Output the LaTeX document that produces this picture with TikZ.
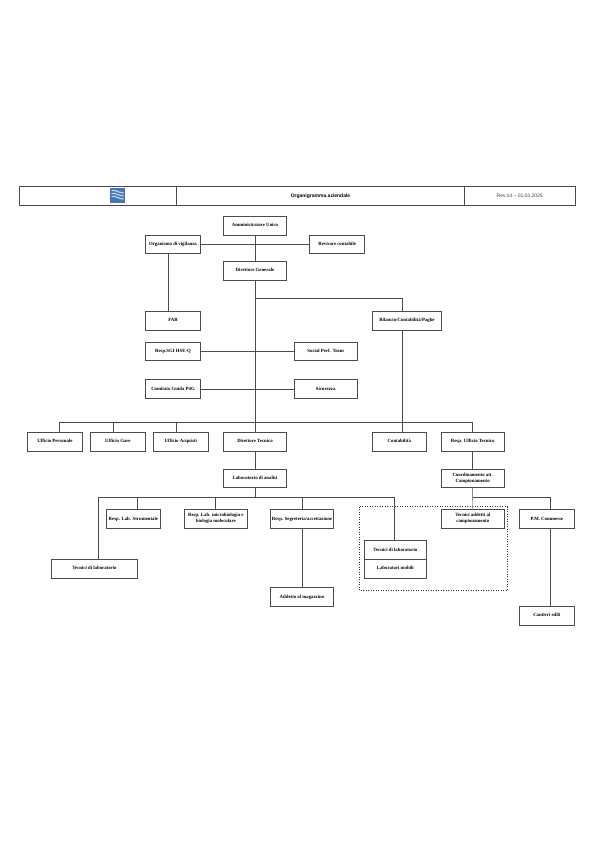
\documentclass[tikz,border=0pt]{standalone}
\usepackage{fontspec}
\setmainfont{Liberation Serif}
\newfontfamily\hdrfont{Liberation Sans}
\definecolor{edgegray}{gray}{0.3}
\tikzset{
  bx/.style={draw=edgegray, line width=0.5pt, fill=white, inner sep=0pt, align=center, font=\fontsize{4.8}{6}\selectfont\bfseries, execute at begin node=\strut},
  hd/.style={draw=edgegray, line width=0.5pt, inner sep=0pt, align=center},
  link/.style={draw=edgegray, line width=0.5pt},
  zone/.style={draw=black!80, line width=0.5pt, dotted}
}
% name, x1, y1, x2, y2, text
\newcommand{\bxn}[6]{\node[bx, minimum width={(#4-#2)*1pt}, minimum height={(#5-#3)*1pt}] (#1) at ({(#2+#4)/2},{(#3+#5)/2}) {#6};}
\newcommand{\hdn}[6]{\node[hd, minimum width={(#4-#2)*1pt}, minimum height={(#5-#3)*1pt}] (#1) at ({(#2+#4)/2},{(#3+#5)/2}) {#6};}
\definecolor{logoblue}{RGB}{72,118,180}
\definecolor{logolight}{RGB}{190,210,235}
\begin{document}
\begin{tikzpicture}[x=1pt,y=-1pt]
\useasboundingbox (0,0) rectangle (595,842);
% header
\hdn{h1}{19.5}{186.5}{176.5}{205.5}{}
\hdn{h2}{176.5}{186.5}{464.5}{205.5}{\fontsize{5}{6}\selectfont\hdrfont\bfseries Organigramma aziendale}
\hdn{h3}{464.5}{186.5}{575}{205.5}{\fontsize{5}{6}\selectfont\hdrfont\color{black!75} Rev.14 – 01.03.2025}
% logo
\fill[logoblue] (109.5,188.3) rectangle (125,203.3);
\foreach \d in {0,3,6}{
  \draw[logolight, line width=1.2pt] (111.5,{190.5+\d}) .. controls (115,{189.5+\d}) and (118,{192.5+\d}) .. (123.5,{193+\d});
}
% dashed zone
\draw[zone] (359.3,506.7) rectangle (507.3,590.3);
% helper coordinates
\coordinate (mainx) at (255,0);
\coordinate (fabx) at (168.3,0);
\coordinate (y1) at (0,298.5);
\coordinate (y2) at (0,422.3);
\coordinate (y3) at (0,497.3);
\coordinate (labx) at (394.3,0);
\coordinate (tecx) at (98.3,0);
\coordinate (strx) at (137.3,0);
\coordinate (micx) at (215.3,0);
\coordinate (pmx) at (550.7,0);
\coordinate (persx) at (59,0);
\coordinate (garex) at (113.5,0);
\coordinate (acqx) at (176.5,0);
\coordinate (bilx) at (402.3,0);
% boxes
\bxn{au}{223.5}{216}{286.5}{235.5}{Amministratore Unico}
\bxn{odv}{145.5}{235.3}{200.5}{253}{Organismo di vigilanza}
\bxn{rev}{309.7}{235.3}{364.7}{253}{Revisore contabile}
\bxn{dg}{223.5}{261.5}{286.5}{280}{Direttore Generale}
\bxn{fab}{145.5}{311.3}{200.5}{330}{FAB}
\bxn{bil}{372.3}{311.3}{441.7}{330}{Bilancio/Contabilità/Paghe}
\bxn{sgi}{145.5}{342.3}{200.5}{360.7}{Resp.SGI HSE-Q}
\bxn{soc}{294.3}{342.3}{357}{360.7}{Social Perf. Team}
\bxn{p4g}{145.5}{379.3}{200.5}{398.3}{Comitato Guida P4G}
\bxn{sic}{294.3}{379.3}{357}{398.3}{Sicurezza}
\bxn{pers}{27.3}{432.3}{82.5}{451}{Ufficio Personale}
\bxn{gare}{90.3}{432.3}{145.5}{451}{Ufficio Gare}
\bxn{acq}{153.3}{432.3}{208.3}{451}{Ufficio Acquisti}
\bxn{dt}{223.5}{432.3}{286.5}{451}{Direttore Tecnico}
\bxn{cont}{372.3}{432.3}{426.3}{451}{Contabilità}
\bxn{ut}{441.3}{432.3}{504}{451}{Resp. Ufficio Tecnico}
\bxn{lab}{223.5}{469.3}{286.5}{487.3}{Laboratorio di analisi}
\bxn{coord}{441.3}{469.3}{504}{487.3}{Coordinamento att.\\Campionamento}
\bxn{str}{106}{509.3}{160.7}{528.7}{Resp. Lab. Strumentale}
\bxn{mic}{184.3}{509.3}{247.3}{528.7}{Resp. Lab. microbiologia e\\biologia molecolare}
\bxn{seg}{270.3}{509.3}{333.7}{528.7}{Resp. Segreteria/accettazione}
\bxn{add}{441.3}{509.3}{504.3}{528.7}{Tecnici addetti al\\campionamento}
\bxn{pm}{519.3}{509.3}{574.3}{528.7}{P.M. Commesse}
\bxn{tec}{51.3}{559.3}{137.7}{578}{Tecnici di laboratorio}
\bxn{mag}{270.3}{587.3}{333.7}{606.3}{Addetto al magazzino}
\bxn{tl}{364.3}{540.3}{426.3}{559.3}{Tecnici di laboratorio}
\bxn{lm}{364.3}{559.3}{426.3}{578}{Laboratori mobili}
\bxn{can}{519.3}{606.3}{574.3}{625}{Cantieri edili}
% connectors
\draw[link] (au.south) -- (dg.north);
\draw[link] (odv.east) -- (rev.west);
\draw[link] (dg.south) -- (dt.north);
\draw[link] (dt.south) -- (lab.north);
\draw[link] (odv.south -| fabx) -- (fab.north -| fabx);
\draw[link] (mainx |- y1) -| (bil.north -| bilx);
\draw[link] (bil.south -| bilx) -- (cont.north -| bilx);
\draw[link] (sgi.east) -- (soc.west);
\draw[link] (p4g.east) -- (sic.west);
% upper bus
\draw[link] (persx |- y2) -- (ut.north |- y2);
\draw[link] (persx |- y2) -- (pers.north -| persx);
\draw[link] (garex |- y2) -- (gare.north -| garex);
\draw[link] (acqx |- y2) -- (acq.north -| acqx);
\draw[link] (ut.north |- y2) -- (ut.north);
\draw[link] (ut.south) -- (coord.north);
% lab bus
\draw[link] (lab.south) -- (lab.south |- y3);
\draw[link] (tecx |- y3) -- (labx |- y3);
\draw[link] (tecx |- y3) -- (tec.north -| tecx);
\draw[link] (strx |- y3) -- (str.north -| strx);
\draw[link] (micx |- y3) -- (mic.north -| micx);
\draw[link] (seg.north |- y3) -- (seg.north);
\draw[link] (labx |- y3) -- (tl.north -| labx);
\draw[link] (seg.south) -- (mag.north);
% coordination bus
\draw[link] (coord.south) -- (add.north);
\draw[link] (coord.south |- y3) -- (pmx |- y3);
\draw[link] (pmx |- y3) -- (pm.north -| pmx);
\draw[link] (pm.south -| pmx) -- (can.north -| pmx);
\end{tikzpicture}
\end{document}
